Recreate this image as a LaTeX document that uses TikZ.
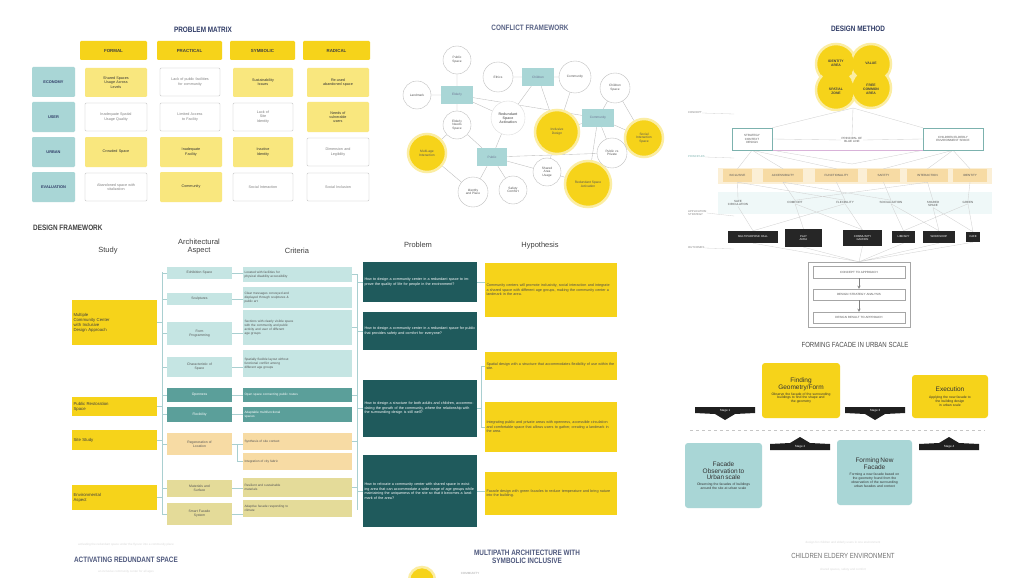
\documentclass[tikz,border=0pt]{standalone}
\usepackage{fontspec}
\setmainfont{Liberation Sans}
\newfontfamily\headfont[FakeStretch=0.82]{Liberation Sans}
\usetikzlibrary{calc}
\pgfdeclarelayer{bg}
\pgfsetlayers{bg,main}
\definecolor{ylw}{HTML}{F6D31A}
\definecolor{ylwlt}{HTML}{F9E77E}
\definecolor{tealhd}{HTML}{A9D6D6}
\definecolor{teallt}{HTML}{C5E5E3}
\definecolor{tealmd}{HTML}{5B9F9A}
\definecolor{tealdk}{HTML}{1F5A5C}
\definecolor{orng}{HTML}{F7DBA4}
\definecolor{khaki}{HTML}{E4DB99}
\definecolor{navy}{HTML}{2F3B66}
\definecolor{lnk}{HTML}{BBBBBB}
\definecolor{lnkl}{HTML}{D2D2D2}
\definecolor{dfln}{HTML}{A9CFD0}
\definecolor{txtg}{HTML}{555555}

% box given by its corners: name, style, x1, y1, x2, y2, text
\newcommand\cellbox[7]{%
  \pgfmathsetmacro\cbw{#5-#3}\pgfmathsetmacro\cbh{#6-#4}%
  \pgfmathsetmacro\cbt{#5-#3-3}%
  \pgfmathsetmacro\cbx{(#3+#5)/2}\pgfmathsetmacro\cby{(#4+#6)/2}%
  \node[#2, minimum width=\cbw pt, minimum height=\cbh pt, text width=\cbt pt] (#1) at (\cbx,\cby) {#7};}

% black stage banners pointing down / up
\newcommand\stagedown[4]{% name, x centre, top, text
  \fill[black!88] ({#2-30},#3) -- ({#2+30},#3) -- ({#2+30},{#3+6}) -- ({#2+10},{#3+7}) -- (#2,{#3+13}) -- ({#2-10},{#3+7}) -- ({#2-30},{#3+6}) -- cycle;
  \node[stg] (#1) at (#2,{#3+3.5}) {#4};}
\newcommand\stageup[4]{% name, x centre, bottom, text
  \fill[black!88] ({#2-30},#3) -- ({#2+30},#3) -- ({#2+30},{#3-6}) -- ({#2+10},{#3-7}) -- (#2,{#3-13}) -- ({#2-10},{#3-7}) -- ({#2-30},{#3-6}) -- cycle;
  \node[stg] (#1) at (#2,{#3-3.5}) {#4};}

\begin{document}
\begin{tikzpicture}[x=1pt,y=-1pt,
  base/.style={inner xsep=1.5pt,inner ysep=0.5pt,align=center,font=\fontsize{3.4}{3.9}\selectfont,rounded corners=1.2pt},
  ttl/.style={font=\headfont\bfseries\fontsize{7.8}{8.2}\selectfont,text=navy,inner sep=0pt,align=center},
  ttlg/.style={font=\headfont\fontsize{7.4}{8}\selectfont,text=black!70,inner sep=0pt,align=center},
  yhead/.style={base,fill=ylw,font=\fontsize{4.4}{5}\selectfont\bfseries,text=black!75},
  ycell/.style={base,fill=ylwlt,text=black!80,font=\fontsize{3.7}{4.3}\selectfont},
  wcell/.style={base,draw=gray!55,fill=white,line width=0.4pt,text=gray,font=\fontsize{3.7}{4.3}\selectfont},
  rhead/.style={base,fill=tealhd,font=\fontsize{3.9}{4.5}\selectfont\bfseries,text=navy},
  circ/.style={circle,draw=gray!55,fill=white,line width=0.35pt,inner sep=0pt,align=center,font=\fontsize{3.2}{3.7}\selectfont,text=txtg},
  ycirc/.style={circle,fill=ylw,draw=ylw!40,line width=2.5pt,inner sep=0pt,align=center,font=\fontsize{3.3}{3.8}\selectfont,text=txtg},
  trect/.style={rectangle,fill=tealhd,minimum width=32pt,minimum height=18pt,inner sep=0pt,font=\fontsize{3.2}{3.7}\selectfont,text=navy!70},
  colh/.style={font=\fontsize{7.5}{8}\selectfont,text=black!75,align=center,inner sep=0pt},
  study/.style={base,fill=ylw,align=left,font=\fontsize{4.3}{5}\selectfont,text=black!75,rounded corners=0pt},
  aspl/.style={base,fill=teallt,text=txtg,rounded corners=0pt},
  aspm/.style={base,fill=tealmd,text=white,rounded corners=0pt},
  aspo/.style={base,fill=orng,text=txtg,rounded corners=0pt},
  aspk/.style={base,fill=khaki,text=txtg,rounded corners=0pt},
  crl/.style={aspl,align=left,font=\fontsize{3.2}{3.8}\selectfont},
  crm/.style={aspm,align=left,font=\fontsize{3.2}{3.8}\selectfont},
  cro/.style={aspo,align=left,font=\fontsize{3.2}{3.8}\selectfont},
  crk/.style={aspk,align=left,font=\fontsize{3.2}{3.8}\selectfont},
  prob/.style={base,fill=tealdk,text=white,align=left,font=\fontsize{3.7}{4.5}\selectfont,rounded corners=0pt},
  hyp/.style={base,fill=ylw,text=black!70,align=left,font=\fontsize{3.7}{4.5}\selectfont,rounded corners=0pt},
  dmlab/.style={font=\fontsize{2.8}{3.2}\selectfont,text=gray,inner sep=0pt,align=left,anchor=west},
  dmbox/.style={base,draw=tealmd!80,fill=white,line width=0.5pt,text=txtg,rounded corners=0pt,font=\fontsize{3}{3.5}\selectfont},
  orbox/.style={base,fill=orng,text=txtg,rounded corners=0pt,font=\fontsize{3}{3.5}\selectfont},
  bltxt/.style={font=\fontsize{3}{3.5}\selectfont,text=txtg,align=center,inner sep=0.5pt},
  blk/.style={base,fill=black!85,text=white,rounded corners=0pt,font=\fontsize{2.8}{3.2}\selectfont},
  stk/.style={base,draw=gray!70,fill=white,line width=0.4pt,text=txtg,rounded corners=0pt,font=\fontsize{3}{3.5}\selectfont},
  stg/.style={font=\fontsize{3}{3.5}\selectfont,text=white,inner sep=0pt},
  fyel/.style={base,fill=ylw,text=black!80,rounded corners=3pt,inner ysep=2pt},
  fteal/.style={base,fill=tealhd,text=black!80,rounded corners=3pt,inner ysep=2pt},
  faint/.style={font=\fontsize{3}{3.5}\selectfont,text=gray!30,inner sep=0pt,align=center},
  blobtxt/.style={inner sep=0pt,font=\fontsize{3.4}{4}\selectfont\bfseries,text=black!75,align=center}
]
\useasboundingbox (0,0) rectangle (1010,578);
\begin{pgfonlayer}{bg}
\fill[white] (0,0) rectangle (1010,578);
\end{pgfonlayer}

%% ---------------- problem matrix ----------------
\node[ttl] (pmT) at (203,30) {PROBLEM MATRIX};
\cellbox{pmF}{yhead}{80}{41}{147}{60}{FORMAL}
\cellbox{pmP}{yhead}{157}{41}{222}{60}{PRACTICAL}
\cellbox{pmS}{yhead}{230}{41}{295}{60}{SYMBOLIC}
\cellbox{pmR}{yhead}{303}{41}{370}{60}{RADICAL}
\cellbox{pmE}{rhead}{32}{67}{75}{97}{ECONOMY}
\cellbox{pmU}{rhead}{32}{102}{75}{132}{USER}
\cellbox{pmC}{rhead}{32}{137}{75}{167}{URBAN}
\cellbox{pmV}{rhead}{32}{172}{75}{202}{EVALUATION}
% row 1
\cellbox{m11}{ycell}{85}{68}{147}{97}{Shared Spaces\\Usage Across\\Levels}
\cellbox{m12}{wcell}{160}{68}{220}{96}{Lack of public facilities\\for community}
\cellbox{m13}{ycell}{233}{68}{293}{97}{Sustainability\\Issues}
\cellbox{m14}{ycell}{307}{68}{369}{97}{Re-used\\abandoned space}
% row 2
\cellbox{m21}{wcell}{85}{103}{147}{131}{Inadequate Spatial\\Usage Quality}
\cellbox{m22}{wcell}{160}{103}{220}{131}{Limited Access\\to Facility}
\cellbox{m23}{wcell}{233}{103}{293}{131}{Lack of\\Site\\Identity}
\cellbox{m24}{ycell}{307}{102}{369}{132}{Needs of\\vulnerable\\users}
% row 3
\cellbox{m31}{ycell}{85}{137}{147}{167}{Crowded Space}
\cellbox{m32}{ycell}{160}{137}{222}{167}{Inadequate\\Facility}
\cellbox{m33}{ycell}{233}{137}{293}{167}{Inactive\\Identity}
\cellbox{m34}{wcell}{307}{138}{369}{166}{Dimension and\\Legibility}
% row 4
\cellbox{m41}{wcell}{85}{173}{147}{201}{Abandoned space with\\vitalization}
\cellbox{m42}{ycell}{160}{172}{222}{202}{Community}
\cellbox{m43}{wcell}{233}{173}{293}{201}{Social Interaction}
\cellbox{m44}{wcell}{307}{173}{369}{201}{Social Inclusion}

%% ---------------- conflict framework ----------------
\node[ttl,text=navy!80] (cfT) at (530,28) {CONFLICT FRAMEWORK};
\node[circ,minimum size=28pt] (cfPub) at (457,60) {Public\\Space};
\node[circ,minimum size=30pt] (cfEth) at (498,77) {Ethics};
\node[trect] (cfTB) at (538,77) {Children};
\node[circ,minimum size=32pt] (cfCom) at (575,77) {Community};
\node[circ,minimum size=30pt] (cfCh) at (615,88) {Children\\Space};
\node[circ,minimum size=28pt] (cfLand) at (417,95) {Landmark};
\node[trect] (cfTA) at (457,95) {Elderly};
\node[circ,minimum size=28pt] (cfEld) at (457,125) {Elderly\\Needs\\Space};
\node[circ,minimum size=34pt,draw=gray!30,text=gray!90!black,font=\fontsize{3.6}{4}\selectfont\bfseries] (cfRed) at (508,118) {Redundant\\Space\\Activation};
\node[ycirc,minimum size=44pt] (cfInc) at (557,132) {Inclusive\\Design};
\node[trect] (cfTC) at (598,118) {Community};
\node[ycirc,minimum size=38pt] (cfSoc) at (644,138) {Social\\Interaction\\Space};
\node[ycirc,minimum size=38pt] (cfMul) at (427,153) {Multi-age\\Interaction};
\node[circ,minimum size=30pt] (cfPri) at (612,153) {Public vs\\Private};
\node[trect,minimum width=30pt] (cfTD) at (492,157) {Public};
\node[circ,minimum size=28pt] (cfSha) at (547,172) {Shared\\Area\\Usage};
\node[ycirc,minimum size=46pt] (cfRsp) at (588,184) {Redundant Space\\Activation};
\node[circ,minimum size=30pt] (cfIde) at (473,192) {Identity\\and Place};
\node[circ,minimum size=28pt] (cfSaf) at (513,190) {Safety\\Comfort};
\begin{pgfonlayer}{bg}
\draw[lnk,line width=0.35pt]
  (cfPub)--(cfTA) (cfLand)--(cfTA) (cfTA)--(cfEld) (cfTA)--(cfRed) (cfTA)--(cfTC)
  (cfEth)--(cfTB) (cfTB)--(cfCom) (cfTB)--(cfRed) (cfTB)--(cfInc) (cfCom)--(cfInc)
  (cfCh)--(cfTC) (cfTC)--(cfSoc) (cfTC)--(cfInc) (cfTC)--(cfPri) (cfTC)--(cfRsp)
  (cfEld)--(cfMul) (cfEld)--(cfTD) (cfRed)--(cfTD) (cfTD)--(cfSha) (cfTD)--(cfIde)
  (cfTD)--(cfSaf) (cfSha)--(cfRsp) (cfSha)--(cfInc) (cfMul)--(cfIde) (cfCh)--(cfSoc)
  (cfTD)--(cfPri);
\end{pgfonlayer}

%% ---------------- design method ----------------
\node[ttl] (dmT) at (858,29) {DESIGN METHOD};
\node[ycirc,minimum size=40pt] (dm1) at (836,64) {};
\node[ycirc,minimum size=40pt] (dm2) at (871,64) {};
\node[ycirc,minimum size=40pt] (dm3) at (836,90) {};
\node[ycirc,minimum size=40pt] (dm4) at (871,88) {};
\fill[ylw] (836,64) circle (18) (871,64) circle (18) (836,90) circle (18) (871,88) circle (18);
\node[blobtxt] (dmt1) at (836,63) {IDENTITY\\AREA};
\node[blobtxt] (dmt2) at (871,63) {VALUE};
\node[blobtxt] (dmt3) at (836,91) {SPATIAL\\ZONE};
\node[blobtxt] (dmt4) at (871,89) {FREE\\COMMON\\AREA};
\coordinate (dmTop) at (853,108);
% level labels on the left
\node[dmlab] (lv1) at (688,113) {CONCEPT};
\node[dmlab,text=tealmd!80] (lv2) at (688,157) {PRINCIPLES};
\node[dmlab] (lv3) at (688,213) {APPLICATION\\STRATEGY};
\node[dmlab] (lv4) at (688,248) {OUTCOMES};
\coordinate (lv1e) at (734,114);
\coordinate (lv2e) at (734,158);
\coordinate (lv3e) at (734,216);
\coordinate (lv4e) at (734,249);
\draw[lnkl,line width=0.3pt] (lv1.east)--(lv1e) (lv2.east)--(lv2e) (lv3.east)--(lv3e) (lv4.east)--(lv4e);
% concept boxes
\cellbox{dmL}{dmbox}{732}{128}{772}{150}{STRATEGY\\CONTEXT\\DESIGN}
\cellbox{dmR}{dmbox}{923}{128}{983}{150}{CHILDREN ELDERLY\\ENVIRONMENT SPACE}
\node[bltxt,fill=white] (dmM) at (852,140) {PRINCIPAL OF\\BLUE LINE};
\coordinate (dmLow) at (852,164);
\begin{pgfonlayer}{bg}
\fill[orng!45] (718,168) rectangle (992,184);
\fill[tealhd!18] (718,192) rectangle (992,214);
\end{pgfonlayer}
% principles row
\cellbox{or1}{orbox}{723}{169}{752}{182}{INCLUSIVE}
\cellbox{or2}{orbox}{763}{169}{803}{182}{ACCESSIBILITY}
\cellbox{or3}{orbox}{815}{169}{858}{182}{FUNCTIONALITY}
\cellbox{or4}{orbox}{867}{169}{900}{182}{SAFETY}
\cellbox{or5}{orbox}{907}{169}{948}{182}{INTERACTION}
\cellbox{or6}{orbox}{953}{169}{987}{182}{IDENTITY}
% strategy row
\node[bltxt] (bl1) at (738,203) {SAFE\\CIRCULATION};
\node[bltxt] (bl2) at (795,202) {COMFORT};
\node[bltxt] (bl3) at (845,202) {FLEXIBILITY};
\node[bltxt] (bl4) at (891,202) {SOCIALIZATION};
\node[bltxt] (bl5) at (933,204) {SHARED\\SPACE};
\node[bltxt] (bl6) at (968,202) {GREEN};
% outcome row
\cellbox{bk1}{blk}{728}{231}{778}{243}{MULTIPURPOSE HALL}
\cellbox{bk2}{blk}{785}{229}{822}{247}{PLAY\\AREA}
\cellbox{bk3}{blk}{843}{230}{882}{246}{COMMUNITY\\GARDEN}
\cellbox{bk4}{blk}{892}{231}{915}{243}{LIBRARY}
\cellbox{bk5}{blk}{923}{231}{955}{243}{WORKSHOP}
\cellbox{bk6}{blk}{966}{232}{980}{242}{CAFE}
% result stack
\cellbox{stO}{stk}{808}{262}{910}{327}{}
\cellbox{st1}{stk}{813}{266}{905}{278}{CONCEPT TO APPROACH}
\cellbox{st2}{stk}{813}{289}{905}{300}{DESIGN STRATEGY ANALYSIS}
\cellbox{st3}{stk}{813}{312}{905}{323}{DESIGN RESULT TO APPROACH}
\draw[gray,line width=0.4pt,-stealth] (st1)--(st2);
\draw[gray,line width=0.4pt,-stealth] (st2)--(st3);
\begin{pgfonlayer}{bg}
\draw[lnkl,line width=0.35pt]
  (dmTop)--(dmM.north) (dmTop)--(dmL.north east) (dmTop)--(dmR.north west)
  (dmL.east)--(dmM.west) (dmM.east)--(dmR.west)
  (dmL.south east)--(dmLow)--(dmR.south west)
  (dmL.south)--(or1.north) (dmL.south)--(or2.north) (dmL.south)--(or3.north)
  (dmR.south)--(or4.north) (dmR.south)--(or5.north) (dmR.south)--(or6.north)
  (or1.south)--(bl1.north) (or2.south)--(bl2.north) (or3.south)--(bl3.north)
  (or4.south)--(bl4.north) (or5.south)--(bl5.north) (or6.south)--(bl6.north)
  (or1.south)--(bl3.north) (or2.south)--(bl4.north) (or5.south)--(bl2.north)
  (bl1.south)--(bk1.north) (bl2.south)--(bk2.north) (bl3.south)--(bk3.north)
  (bl4.south)--(bk4.north) (bl5.south)--(bk5.north) (bl6.south)--(bk6.north)
  (bl2.south)--(bk3.north) (bl4.south)--(bk5.north) (bl5.south)--(bk6.north)
  (bl3.south)--(bk1.north) (bl6.south)--(bk4.north)
  (bk1.south)--(stO.north) (bk2.south)--(stO.north) (bk3.south)--(stO.north)
  (bk4.south)--(stO.north) (bk5.south)--(stO.north) (bk6.south)--(stO.north);
\draw[violet!30,line width=0.35pt] (dmL.south)--(dmR.south);
\end{pgfonlayer}

%% ---------------- design framework ----------------
\node[ttl,anchor=west,text=black!75] (dfT) at (33,228) {DESIGN FRAMEWORK};
\node[colh] (hSt) at (108,251) {Study};
\node[colh] (hAs) at (199,247) {Architectural\\Aspect};
\node[colh] (hCr) at (297,251) {Criteria};
\node[colh] (hPb) at (418,245) {Problem};
\node[colh] (hHy) at (540,246) {Hypothesis};
% study
\cellbox{sd1}{study}{72}{300}{157}{345}{Multiple\\Community Center\\with Inclusive\\Design Approach}
\cellbox{sd2}{study}{72}{397}{157}{416}{Public Restoration\\Space}
\cellbox{sd3}{study}{72}{430}{157}{450}{Site Study}
\cellbox{sd4}{study}{72}{485}{157}{510}{Environmental\\Aspect}
% architectural aspect
\cellbox{as1}{aspl}{167}{267}{232}{279}{Exhibition Space}
\cellbox{as2}{aspl}{167}{293}{232}{305}{Sculptures}
\cellbox{as3}{aspl}{167}{322}{232}{345}{Form\\Programming}
\cellbox{as4}{aspl}{167}{357}{232}{377}{Characteristic of\\Space}
\cellbox{as5}{aspm}{167}{388}{232}{402}{Openness}
\cellbox{as6}{aspm}{167}{407}{232}{422}{Flexibility}
\cellbox{as7}{aspo}{167}{433}{232}{455}{Regeneration of\\Location}
\cellbox{as8}{aspk}{167}{480}{232}{497}{Materials and\\Surface}
\cellbox{as9}{aspk}{167}{503}{232}{525}{Smart Facade\\System}
% criteria
\cellbox{cr1}{crl}{243}{267}{352}{282}{Located with facilities for\\physical disability accessibility}
\cellbox{cr2}{crl}{243}{287}{352}{308}{Clear messages conveyed and\\displayed through sculptures \&\\public art}
\cellbox{cr3}{crl}{243}{310}{352}{345}{Sections with clearly visible space\\with the community and public\\activity and user of different\\age groups}
\cellbox{cr4}{crl}{243}{350}{352}{377}{Spatially flexible layout without\\functional conflict among\\different age groups}
\cellbox{cr5}{crm}{243}{388}{352}{402}{Open space connecting public routes}
\cellbox{cr6}{crm}{243}{407}{352}{422}{Adaptable multifunctional\\spaces}
\cellbox{cr7}{cro}{243}{433}{352}{450}{Synthesis of site context}
\cellbox{cr8}{cro}{243}{453}{352}{470}{Integration of city fabric}
\cellbox{cr9}{crk}{243}{478}{352}{497}{Resilient and sustainable\\materials}
\cellbox{cr10}{crk}{243}{500}{352}{517}{Adaptive facade responding to\\climate}
% problem
\cellbox{pb1}{prob}{363}{262}{477}{302}{How to design a community center in a redundant space to improve the quality of life for people in the environment?}
\cellbox{pb2}{prob}{363}{312}{477}{350}{How to design a community center in a redundant space for public that provides safety and comfort for everyone?}
\cellbox{pb3}{prob}{363}{380}{477}{437}{How to design a structure for both adults and children, accommodating the growth of the community, where the relationship with the surrounding design is still well?}
\cellbox{pb4}{prob}{363}{455}{477}{527}{How to relocate a community center with shared space in existing area that can accommodate a wide range of age groups while maintaining the uniqueness of the site so that it becomes a landmark of the area?}
% hypothesis
\cellbox{hy1}{hyp}{485}{263}{617}{317}{Community centers will promote inclusivity, social interaction and integrate a shared space with different age groups, making the community center a landmark in the area.}
\cellbox{hy2}{hyp}{485}{352}{617}{380}{Spatial design with a structure that accommodates flexibility of use within the site.}
\cellbox{hy3}{hyp}{485}{402}{617}{452}{Integrating public and private areas with openness, accessible circulation and comfortable space that allows users to gather, creating a landmark in the area.}
\cellbox{hy4}{hyp}{485}{472}{617}{515}{Facade design with green facades to reduce temperature and bring nature into the building.}
\coordinate (dfA) at (162,272);
\coordinate (dfB) at (162,515);
\coordinate (dfC) at (357,274);
\coordinate (dfD) at (357,510);
\coordinate (dfE) at (481,282);
\begin{pgfonlayer}{bg}
\draw[dfln,line width=0.4pt]
  (dfA)--(dfB)
  (sd1.east)--(sd1.east-|dfA) (sd2.east)--(sd2.east-|dfA) (sd3.east)--(sd3.east-|dfA) (sd4.east)--(sd4.east-|dfA)
  (as1.west)--(as1.west-|dfA) (as2.west)--(as2.west-|dfA) (as3.west)--(as3.west-|dfA) (as4.west)--(as4.west-|dfA)
  (as5.west)--(as5.west-|dfA) (as6.west)--(as6.west-|dfA) (as7.west)--(as7.west-|dfA) (as8.west)--(as8.west-|dfA)
  (as9.west)--(as9.west-|dfA)
  (as1.east)--(as1.east-|cr1.west) (as2.east)--(as2.east-|cr2.west) (as3.east)--(as3.east-|cr3.west)
  (as4.east)--(as4.east-|cr4.west) (as5.east)--(as5.east-|cr5.west) (as6.east)--(as6.east-|cr6.west)
  (as7.east)--(as7.east-|cr7.west) (as7.east)--++(5,0)|-(cr8.west)
  (as8.east)--(as8.east-|cr9.west) (as9.east)--(as9.east-|cr10.west)
  (dfC)--(dfD)
  (cr1.east)--(cr1.east-|dfC) (cr3.east)--(cr3.east-|dfC) (cr5.east)--(cr5.east-|dfC)
  (cr7.east)--(cr7.east-|dfC) (cr9.east)--(cr9.east-|dfC)
  (pb1.west)--(pb1.west-|dfC) (pb2.west)--(pb2.west-|dfC) (pb3.west)--(pb3.west-|dfC) (pb4.west)--(pb4.west-|dfC)
  (pb1.east)--(pb1.east-|hy1.west)
  (pb3.east)--(pb3.east-|dfE) |- (hy2.west)
  (pb3.east-|dfE) |- (hy3.west)
  (pb4.east)--(pb4.east-|hy4.west);
\end{pgfonlayer}

%% ---------------- forming facade ----------------
\node[ttlg] (ffT) at (855,345) {FORMING FACADE IN URBAN SCALE};
\cellbox{ffG}{fyel}{762}{363}{840}{418}{{\fontsize{6.5}{7}\selectfont Finding\\Geometry/Form}\\[2pt]Observe the facade of the surrounding\\buildings to find the shape and\\the geometry}
\cellbox{ffE}{fyel}{912}{375}{988}{418}{{\fontsize{6.5}{7}\selectfont Execution}\\[3pt]Applying the new facade to\\the building design\\in urban scale}
\cellbox{ffO}{fteal}{685}{443}{762}{508}{{\fontsize{6.5}{7.2}\selectfont Facade\\Observation to\\Urban scale}\\[2pt]Observing the facades of buildings\\around the site at urban scale}
\cellbox{ffN}{fteal}{837}{440}{912}{505}{{\fontsize{6.5}{7.2}\selectfont Forming New\\Facade}\\[3pt]Forming a new facade based on\\the geometry found from the\\observation of the surrounding\\urban facades and context}
\coordinate (ffL) at (690,430);
\coordinate (ffR) at (985,430);
\draw[gray!45,dashed,line width=0.4pt] (ffL)--(ffR);
\stagedown{sg1}{725}{407}{Stage 1}
\stagedown{sg3}{875}{407}{Stage 3}
\stageup{sg2}{800}{450}{Stage 2}
\stageup{sg4}{949}{450}{Stage 4}

%% ---------------- lower titles ----------------
\node[faint] (fa1) at (126,545) {activating the redundant space under the flyover into a community place};
\node[ttl,text=navy!85] (arT) at (126,560) {ACTIVATING REDUNDANT SPACE};
\node[faint] (fa2) at (126,572) {an inclusive community center for all ages};
\node[ttl,text=navy!85] (maT) at (527,557) {MULTIPATH ARCHITECTURE WITH\\SYMBOLIC INCLUSIVE};
\node[ycirc,minimum size=26pt] (maC) at (422,580) {};
\node[font=\fontsize{3}{3.5}\selectfont,text=gray!70,inner sep=0pt] (maS) at (470,573) {COMMUNITY};
\node[faint] (fa3) at (843,543) {design for children and elderly users in one environment};
\node[ttlg,text=black!55] (ceT) at (843,556) {CHILDREN ELDERY ENVIRONMENT};
\node[faint] (fa4) at (843,570) {shared spaces, safety and comfort};
\end{tikzpicture}
\end{document}
